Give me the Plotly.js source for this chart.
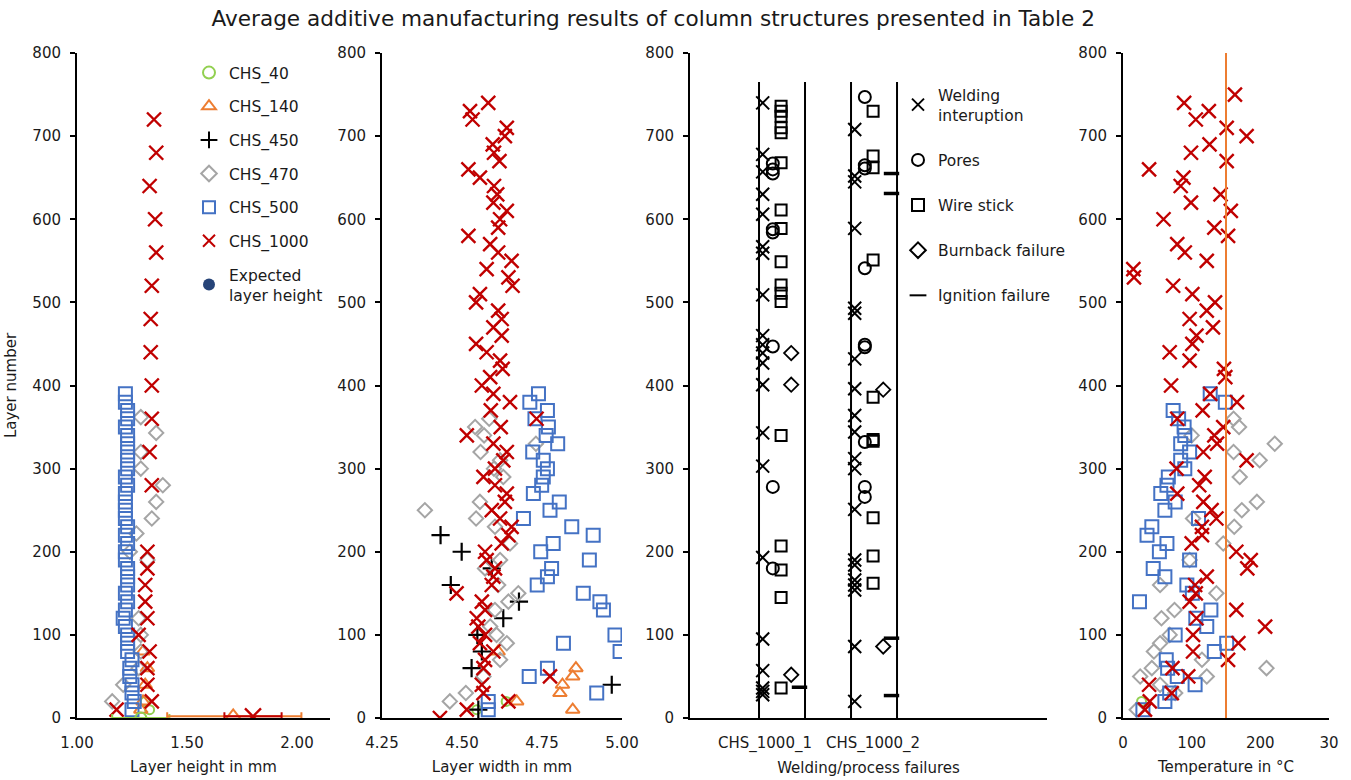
<!DOCTYPE html>
<html>
<head>
<meta charset="utf-8">
<script src="https://cdn.plot.ly/plotly-3.0.1.min.js"></script>
<style>
html,body{margin:0;padding:0;background:#fff;}
#chart{width:1351px;height:780px;}
.legend .traces{opacity:1 !important;}
</style>
</head>
<body>
<div id="chart"></div>
<script>
// ---------- DATA ----------
const seriesNames = ['CHS_40', 'CHS_140', 'CHS_450', 'CHS_470', 'CHS_500', 'CHS_1000'];

// Panel 1: layer height in mm
const h40Layer = [10, 20];
const h40Val = [1.33, 1.31];
const h140Layer = [10, 20, 40, 60, 80];
const h140Val = [1.29, 1.30, 1.31, 1.32, 1.30];
const h470Layer = [20, 40, 60, 80, 100, 120, 190, 200, 222, 240, 260, 280, 300, 320, 343, 362];
const h470Val = [1.16, 1.21, 1.28, 1.29, 1.29, 1.28, 1.32, 1.24, 1.27, 1.34, 1.36, 1.39, 1.29, 1.29, 1.36, 1.29];
const h500Layer = [10, 20, 30, 40, 50, 60, 70, 80, 90, 100, 110, 120, 130, 140, 150, 160, 170, 180, 190, 200,
                   210, 220, 230, 240, 250, 260, 270, 280, 290, 300, 310, 320, 330, 340, 350, 360, 370, 380, 390];
const h500Val = [1.25, 1.26, 1.25, 1.25, 1.24, 1.24, 1.25, 1.23, 1.23, 1.23, 1.22, 1.21, 1.22, 1.23, 1.22, 1.23, 1.23, 1.23, 1.22, 1.22,
                 1.23, 1.22, 1.23, 1.22, 1.22, 1.22, 1.22, 1.23, 1.22, 1.23, 1.23, 1.23, 1.23, 1.23, 1.22, 1.23, 1.23, 1.22, 1.22];
const h1000Layer = [10, 20, 40, 60, 80, 100, 120, 140, 160, 180, 200, 280, 320, 360, 400, 440, 480, 520, 560, 600, 640, 680, 720];
const h1000Val = [1.18, 1.34, 1.32, 1.32, 1.33, 1.28, 1.32, 1.31, 1.31, 1.32, 1.32, 1.34, 1.33, 1.34, 1.34, 1.335, 1.335, 1.34, 1.36, 1.355, 1.33, 1.36, 1.35];
// expected layer height: listed in the legend, not visible in the plotted area
const expectedLayer = [0];
const expectedVal = [1.25];
// averages with spread (drawn at the base of the column)
const meanNames = ['CHS_40', 'CHS_140', 'CHS_1000'];
const meanHeight = [1.29, 1.71, 1.80];
const meanLayer = [0, 2, 2];
const meanMinus = [0.13, 0.30, 0.13];
const meanPlus = [0.13, 0.31, 0.13];

// Panel 2: layer width in mm
const w40Layer = [20, 10];
const w40Val = [4.638, 4.546];
const w140Layer = [80, 60, 50, 40, 30, 20, 10];
const w140Val = [4.613, 4.856, 4.846, 4.814, 4.806, 4.671, 4.846];
const w450Layer = [220, 200, 180, 160, 140, 120, 100, 80, 60, 40, 10];
const w450Val = [4.433, 4.499, 4.593, 4.465, 4.678, 4.629, 4.548, 4.562, 4.53, 4.968, 4.551];
const w470Layer = [360, 350, 340, 330, 320, 310, 300, 290, 260, 250, 240, 230, 210, 190, 180, 160, 150, 140, 130, 110, 100, 90, 70, 50, 30, 20];
const w470Val = [4.585, 4.541, 4.569, 4.731, 4.558, 4.619, 4.60, 4.629, 4.556, 4.384, 4.544, 4.603, 4.65, 4.619, 4.572, 4.613, 4.676, 4.645, 4.603, 4.588, 4.608, 4.64, 4.619, 4.567, 4.512, 4.462];
const w500Layer = [390, 380, 370, 360, 350, 340, 330, 320, 310, 300, 290, 280, 270, 260, 250, 240, 230, 220, 210, 200, 190, 180, 170, 160, 150, 140, 130, 100, 90, 80, 60, 50, 30, 20, 10];
const w500Val = [4.739, 4.712, 4.767, 4.728, 4.77, 4.763, 4.799, 4.721, 4.754, 4.767, 4.754, 4.749, 4.723, 4.804, 4.775, 4.692, 4.843, 4.91, 4.785, 4.746, 4.898, 4.78, 4.767, 4.735, 4.879, 4.931, 4.942, 4.978, 4.817, 4.994, 4.767, 4.71, 4.921, 4.582, 4.582];
const w1000Layer = [740, 730, 720, 710, 700, 690, 680, 670, 660, 650, 640, 630, 620, 610, 600, 590, 580, 570, 560, 550, 540, 530, 520, 510, 500,
                    490, 480, 470, 460, 450, 440, 430, 420, 410, 400, 390, 380, 370, 360, 350, 340, 330, 320, 310, 300, 290, 280, 270, 260, 250,
                    240, 230, 220, 210, 200, 190, 180, 170, 160, 150, 140, 130, 120, 110, 100, 90, 80, 70, 60, 50, 40, 30, 20, 10, 0];
const w1000Val = [4.582, 4.525, 4.533, 4.64, 4.634, 4.596, 4.60, 4.617, 4.52, 4.556, 4.60, 4.61, 4.598, 4.64, 4.619, 4.613, 4.52, 4.588, 4.613, 4.655, 4.577, 4.645, 4.658, 4.556, 4.544,
                  4.613, 4.624, 4.598, 4.624, 4.544, 4.577, 4.619, 4.627, 4.588, 4.562, 4.598, 4.65, 4.59, 4.733, 4.621, 4.515, 4.598, 4.64, 4.629, 4.603, 4.567, 4.603, 4.64, 4.634, 4.593,
                  4.619, 4.655, 4.645, 4.624, 4.572, 4.577, 4.603, 4.598, 4.593, 4.483, 4.562, 4.572, 4.546, 4.551, 4.572, 4.556, 4.598, 4.572, 4.567, 4.775, 4.562, 4.567, 4.645, 4.515, 4.431];

// Panel 3: welding / process failures (layer numbers) for CHS_1000_1 and CHS_1000_2
const specimens = ['CHS_1000_1', 'CHS_1000_2'];
const failureTypes = ['Welding<br>interuption', 'Pores', 'Wire stick', 'Burnback failure', 'Ignition failure'];
const weldInt1 = [740, 678, 657, 630, 606, 567, 559, 509, 460, 449, 439, 427, 401, 343, 303, 193, 95, 57, 36, 32, 28];
const pores1 = [667, 660, 655, 588, 584, 447, 278, 180];
const wireStick1 = [736, 730, 724, 710, 704, 668, 611, 589, 549, 521, 511, 501, 340, 207, 178, 145, 36];
const burnback1 = [439, 401, 52];
const ignition1 = [37];
const weldInt2 = [708, 652, 645, 589, 493, 487, 432, 396, 364, 344, 312, 300, 251, 190, 184, 166, 160, 154, 86, 20];
const pores2 = [747, 665, 661, 541, 449, 446, 332, 278, 266];
const wireStick2 = [730, 676, 662, 551, 386, 335, 333, 241, 195, 162];
const burnback2 = [395, 86];
const ignition2 = [655, 631, 96, 27];

// Panel 4: temperature in °C
const t40Layer = [20];
const t40Val = [27];
const t470Layer = [360, 350, 340, 330, 320, 310, 290, 260, 250, 240, 230, 210, 190, 160, 150, 130, 120, 100, 90, 80, 70, 60, 60, 50, 50, 40, 30, 10];
const t470Val = [161, 169, 100, 221, 161, 199, 170, 195, 173, 102, 162, 146, 97, 54, 136, 75, 56, 68, 54, 45, 115, 209, 42, 25, 122, 54, 76, 20];
const t500Layer = [390, 380, 370, 360, 350, 340, 330, 320, 310, 300, 290, 280, 270, 260, 250, 240, 230, 220, 210, 200, 190, 180, 170, 160, 150, 140, 130, 120, 110, 100, 90, 80, 70, 60, 50, 40, 30, 20, 10];
const t500Val = [127, 149, 73, 81, 89, 90, 84, 97, 84, 90, 66, 64, 55, 76, 61, 110, 42, 35, 64, 53, 97, 44, 61, 93, 101, 24, 128, 106, 122, 76, 151, 133, 63, 65, 79, 105, 68, 61, 29];
const t1000Layer = [750, 740, 730, 720, 710, 700, 690, 680, 670, 660, 650, 640, 630, 620, 610, 600, 590, 580, 570, 560, 550, 540, 530, 520, 510,
                    500, 490, 480, 470, 460, 450, 440, 430, 420, 410, 400, 390, 380, 370, 360, 350, 340, 330, 320, 310, 300, 290, 280, 270, 260,
                    250, 240, 230, 220, 210, 200, 190, 180, 170, 160, 150, 140, 130, 120, 110, 100, 90, 80, 70, 60, 50, 40, 30, 20, 10];
const t1000Val = [163, 89, 125, 106, 151, 180, 126, 99, 151, 38, 88, 84, 142, 99, 157, 59, 133, 153, 79, 90, 122, 15, 16, 73, 101,
                  134, 122, 97, 131, 107, 101, 68, 97, 147, 149, 70, 127, 166, 116, 79, 146, 133, 137, 117, 180, 78, 119, 111, 79, 117,
                  129, 136, 115, 115, 100, 165, 186, 181, 122, 105, 106, 97, 165, 107, 207, 102, 168, 102, 153, 72, 95, 38, 71, 39, 32];
const tempLimit = [150, 150];
const tempLimitLayer = [0, 800];

// ---------- STYLE ----------
const FONT = 'DejaVu Sans, Verdana, sans-serif';
const TXT = '#1a1a1a';
const style = {
  'CHS_40':   {color: '#92D050', symbol: 'circle-open',      size: 9,  lw: 2},
  'CHS_140':  {color: '#ED7D31', symbol: 'triangle-up-open', size: 12, lw: 2},
  'CHS_450':  {color: '#000000', symbol: 'cross-thin',       size: 13, lw: 2.2},
  'CHS_470':  {color: '#A5A5A5', symbol: 'diamond-open',     size: 11, lw: 2},
  'CHS_500':  {color: '#4472C4', symbol: 'square-open',      size: 13, lw: 2},
  'CHS_1000': {color: '#C00000', symbol: 'x-thin',           size: 14, lw: 2.4}
};

function pts(name, xs, ys, xa, ya, showlegend) {
  const s = style[name];
  return {
    type: 'scatter', mode: 'markers', name: name, x: xs, y: ys,
    xaxis: xa, yaxis: ya, legendgroup: name, showlegend: !!showlegend, legend: 'legend',
    marker: {color: s.color, symbol: s.symbol, size: s.size, line: {color: s.color, width: s.lw}},
    hoverinfo: 'x+y+name'
  };
}

const traces = [];
// Panel 2 first (provides legend entries in series order)
traces.push(pts('CHS_40', w40Val, w40Layer, 'x2', 'y2', true));
traces.push(pts('CHS_140', w140Val, w140Layer, 'x2', 'y2', true));
traces.push(pts('CHS_450', w450Val, w450Layer, 'x2', 'y2', true));
traces.push(pts('CHS_470', w470Val, w470Layer, 'x2', 'y2', true));
traces.push(pts('CHS_500', w500Val, w500Layer, 'x2', 'y2', true));
traces.push(pts('CHS_1000', w1000Val, w1000Layer, 'x2', 'y2', true));

// Panel 1
traces.push(pts('CHS_40', h40Val, h40Layer, 'x', 'y'));
traces.push(pts('CHS_140', h140Val, h140Layer, 'x', 'y'));
traces.push(pts('CHS_470', h470Val, h470Layer, 'x', 'y'));
traces.push(pts('CHS_500', h500Val, h500Layer, 'x', 'y'));
traces.push(pts('CHS_1000', h1000Val, h1000Layer, 'x', 'y'));
meanNames.forEach(function (n, i) {
  const t = pts(n, [meanHeight[i]], [meanLayer[i]], 'x', 'y');
  t.marker.size = style[n].size + 2;
  t.error_x = {type: 'data', symmetric: false, array: [meanPlus[i]], arrayminus: [meanMinus[i]],
               color: style[n].color, thickness: 2, width: 4};
  traces.push(t);
});
traces.push({
  type: 'scatter', mode: 'markers', name: 'Expected<br>layer height', x: expectedVal, y: expectedLayer,
  xaxis: 'x', yaxis: 'y', legendgroup: 'expected', showlegend: true, legend: 'legend', visible: 'legendonly',
  marker: {color: '#264478', symbol: 'circle', size: 7}
});

// Panel 3
const failureStyle = [
  {symbol: 'x-thin', size: 13, lw: 2},
  {symbol: 'circle-open', size: 12, lw: 2},
  {symbol: 'square-open', size: 11, lw: 2},
  {symbol: 'diamond-open', size: 11, lw: 1.8},
  {symbol: 'line-ew', size: 11, lw: 3.5}
];
const specimenBase = [1.5, 3.5];                   // position of each specimen column line
const failureOffset = [0.08, 0.30, 0.48, 0.70, 0.88]; // column position of each failure type
const failureData = [
  [weldInt1, pores1, wireStick1, burnback1, ignition1],
  [weldInt2, pores2, wireStick2, burnback2, ignition2]
];
failureData.forEach(function (spec, si) {
  spec.forEach(function (layers, fi) {
    const fs = failureStyle[fi];
    traces.push({
      type: 'scatter', mode: 'markers', name: failureTypes[fi],
      x: layers.map(function () { return specimenBase[si] + failureOffset[fi]; }), y: layers,
      xaxis: 'x3', yaxis: 'y3', legend: 'legend2', legendgroup: 'f' + fi, showlegend: si === 0,
      marker: {color: '#000', symbol: fs.symbol, size: fs.size, line: {color: '#000', width: fs.lw}},
      hovertemplate: specimens[si] + ': %{y}<extra>' + failureTypes[fi].replace('<br>', ' ') + '</extra>'
    });
  });
});

// Panel 4
traces.push(pts('CHS_40', t40Val, t40Layer, 'x4', 'y4'));
traces.push(pts('CHS_470', t470Val, t470Layer, 'x4', 'y4'));
traces.push(pts('CHS_500', t500Val, t500Layer, 'x4', 'y4'));
traces.push(pts('CHS_1000', t1000Val, t1000Layer, 'x4', 'y4'));
traces.push({
  type: 'scatter', mode: 'lines', name: 'Temperature limit', x: tempLimit, y: tempLimitLayer,
  xaxis: 'x4', yaxis: 'y4', showlegend: false, line: {color: '#ED7D31', width: 2}
});

// ---------- LAYOUT ----------
const W = 1351, H = 780;
const yDom = [1 - 718 / H, 1 - 53 / H];
function xax(l, r, extra) {
  return Object.assign({
    domain: [l / W, r / W], showgrid: false, zeroline: false, showline: true,
    linecolor: '#000', linewidth: 2, ticks: '', ticklabelstandoff: 10,
    tickfont: {family: FONT, size: 15, color: TXT}, fixedrange: true
  }, extra);
}
function yax(anchor, extra) {
  return Object.assign({
    domain: yDom, range: [0, 800], dtick: 100, tick0: 0, anchor: anchor,
    showgrid: false, zeroline: false, showline: true, linecolor: '#000', linewidth: 2,
    ticks: 'outside', ticklen: 5, tickwidth: 1.5, tickcolor: '#000', ticklabelstandoff: 6,
    tickfont: {family: FONT, size: 15, color: TXT}, fixedrange: true
  }, extra);
}
const axTitleFont = {family: FONT, size: 15, color: TXT};

const vlinePos = [1.5, 2.5, 3.5, 4.5];
const shapes = vlinePos.map(function (v) {
  return {type: 'line', xref: 'x3', yref: 'y3', x0: v, x1: v, y0: 0, y1: 765, line: {color: '#000', width: 2}};
});

const layout = {
  width: W, height: H,
  margin: {l: 0, r: 0, t: 0, b: 0},
  paper_bgcolor: '#fff', plot_bgcolor: '#fff',
  font: {family: FONT, color: TXT},
  title: {text: 'Average additive manufacturing results of column structures presented in Table 2',
          x: 0.4835, xanchor: 'center', y: 1 - 18 / H, yanchor: 'middle',
          font: {family: FONT, size: 21.6, color: TXT}},
  xaxis: xax(77, 330, {anchor: 'y', range: [1, 2.15], tickvals: [1, 1.5, 2], tickformat: '.2f',
    title: {text: 'Layer height in mm', font: axTitleFont, standoff: 10}}),
  yaxis: yax('x', {title: {text: 'Layer number', font: axTitleFont, standoff: 12}}),
  xaxis2: xax(382, 622, {anchor: 'y2', range: [4.25, 5.0], tickvals: [4.25, 4.5, 4.75, 5.0], tickformat: '.2f',
    title: {text: 'Layer width in mm', font: axTitleFont, standoff: 10}}),
  yaxis2: yax('x2'),
  xaxis3: xax(690, 1047, {anchor: 'y3', range: [0, 7.76], tickvals: [1.63, 3.98], ticktext: specimens,
    title: {text: 'Welding/process failures', font: axTitleFont, standoff: 10}}),
  yaxis3: yax('x3'),
  xaxis4: xax(1123, 1329, {anchor: 'y4', range: [0, 300], tickvals: [0, 100, 200, 300], ticktext: ['0', '100', '200', '30'],
    title: {text: 'Temperature in °C', font: axTitleFont, standoff: 10}}),
  yaxis4: yax('x4'),
  shapes: shapes,
  showlegend: true,
  legend: {x: 189 / W, xanchor: 'left', y: 1 - 56 / H, yanchor: 'top', bgcolor: 'rgba(0,0,0,0)',
           font: {family: FONT, size: 15.5, color: TXT}, traceorder: 'grouped', tracegroupgap: 10.5,
           itemsizing: 'constant', itemclick: false, itemdoubleclick: false},
  legend2: {x: 898 / W, xanchor: 'left', y: 1 - 78 / H, yanchor: 'top', bgcolor: 'rgba(0,0,0,0)',
            font: {family: FONT, size: 15.5, color: TXT}, traceorder: 'grouped', tracegroupgap: 22,
            itemsizing: 'constant'}
};

Plotly.newPlot('chart', traces, layout, {displayModeBar: false});
</script>
</body>
</html>
